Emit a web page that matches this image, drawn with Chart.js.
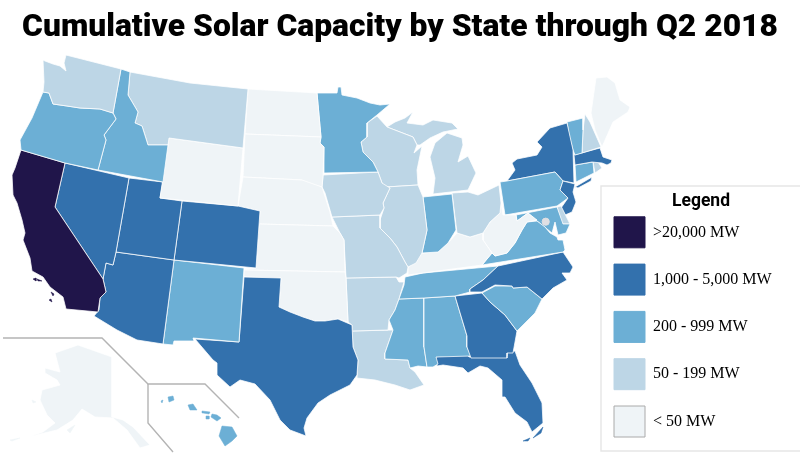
<!DOCTYPE html>
<html>
<head>
<meta charset="utf-8">
<script src="https://cdn.jsdelivr.net/npm/chart.js@4"></script>
<style>
body { margin: 0; background: #fff; }
canvas { display: block; }
</style>
</head>
<body>
<canvas id="myChart" width="800" height="458"></canvas>
<script>
var chartTitle = "Cumulative Solar Capacity by State through Q2 2018"
var legendTitle = "Legend"
var binLabels = [">20,000 MW", "1,000 - 5,000 MW", "200 - 999 MW", "50 - 199 MW", "< 50 MW"]
var binColors = ["#20154a", "#3371ad", "#6cafd5", "#bdd6e6", "#eff4f7"]

// state outlines, in picture units (x, y)
var washington = [[66,55],[121,69],[113,113],[100,109],[80,108],[67,106],[53,104],[49,93],[43,92],[44,82],[43,60],[45,61],[53,64],[60,66],[66,71],[64,63]]
var oregon = [[43,92],[49,93],[53,104],[67,106],[80,108],[100,109],[113,113],[116,119],[104,135],[106,140],[98,170],[65,163],[21,150],[20,140],[32,118]]
var idaho = [[121,69],[130,72],[128,95],[138,112],[135,123],[142,126],[148,145],[168,145],[163,182],[98,170],[106,140],[104,135],[116,119],[113,113]]
var montana = [[130,72],[190,83],[248,89],[243,148],[169,138],[168,145],[148,145],[142,126],[135,123],[138,112],[128,95]]
var wyoming = [[169,138],[243,148],[238,206],[160,198]]
var california = [[21,150],[65,163],[55,207],[103,279],[106,292],[100,298],[98,312],[66,309],[63,297],[50,287],[43,277],[32,271],[30,258],[23,240],[25,233],[22,220],[17,203],[13,195],[12,175],[15,168]]
var nevada = [[65,163],[129,178],[116,252],[113,265],[106,263],[103,279],[55,207]]
var utah = [[129,178],[163,182],[160,198],[182,201],[174,260],[116,252]]
var colorado = [[182,201],[238,206],[260,211],[256,268],[174,260]]
var arizona = [[116,252],[174,260],[163,344],[137,340],[117,330],[94,316],[99,310],[100,298],[106,292],[103,279],[106,263],[113,265]]
var newMexico = [[174,260],[244,268],[239,342],[193,338],[194,341],[174,341],[173,345],[163,344]]
var texas = [[195,339],[239,342],[244,277],[281,278],[279,307],[290,312],[303,317],[315,321],[325,321],[338,319],[352,325],[353,347],[358,360],[357,375],[350,385],[330,395],[318,403],[307,418],[304,428],[306,436],[290,430],[280,420],[270,400],[255,384],[240,380],[230,387],[217,375],[217,363],[213,360]]
var oklahoma = [[244,270],[345,272],[346,278],[348,322],[338,319],[325,321],[315,321],[303,317],[290,312],[279,307],[281,278],[244,277]]
var kansas = [[259,224],[333,226],[340,233],[344,240],[345,272],[244,270],[256,268]]
var nebraska = [[243,177],[302,180],[322,187],[330,212],[333,226],[259,224],[260,211],[238,206]]
var southDakota = [[245,134],[321,137],[320,143],[324,147],[323,177],[322,187],[305,183],[302,180],[243,177]]
var northDakota = [[248,89],[317,93],[321,137],[245,134]]
var minnesota = [[317,93],[337,93],[338,87],[341,87],[342,95],[357,98],[370,103],[380,105],[390,104],[377,115],[367,123],[367,137],[361,142],[363,152],[373,162],[378,172],[324,173],[324,147],[320,143],[321,137]]
var iowa = [[323,175],[378,172],[382,183],[390,188],[383,203],[384,208],[380,215],[332,217],[325,193],[322,187]]
var missouri = [[332,217],[380,215],[380,228],[390,238],[397,247],[405,262],[408,267],[407,273],[399,278],[396,277],[346,278],[344,240],[340,233]]
var illinois = [[386,187],[418,185],[423,197],[427,230],[422,253],[416,263],[408,267],[405,262],[397,247],[390,238],[380,228],[380,220],[384,208],[383,203],[390,188]]
var wisconsin = [[367,123],[377,116],[387,127],[413,137],[417,145],[414,153],[422,146],[417,170],[418,185],[386,187],[382,183],[378,172],[373,162],[363,152],[361,142],[367,137]]
var michiganUpper = [[387,127],[395,122],[405,118],[413,112],[407,123],[423,125],[433,120],[452,123],[458,129],[443,132],[430,138],[420,145],[417,145],[413,137]]
var michiganLower = [[447,133],[462,138],[463,145],[458,162],[468,156],[476,173],[468,190],[433,194],[435,178],[430,157],[435,143]]
var indiana = [[423,197],[452,194],[456,230],[448,243],[438,252],[422,253],[427,230]]
var ohio = [[452,193],[468,192],[478,195],[499,185],[501,203],[500,213],[490,222],[483,233],[470,237],[457,233]]
var kentucky = [[457,233],[470,237],[483,233],[483,240],[492,253],[482,265],[423,273],[408,275],[408,268],[422,253],[438,252],[448,243]]
var westVirginia = [[501,203],[503,215],[516,215],[517,221],[528,213],[537,220],[527,222],[522,230],[515,243],[507,253],[495,256],[492,253],[483,240],[483,233],[490,222],[500,213]]
var virginia = [[563,252],[482,265],[492,253],[495,256],[507,253],[515,243],[522,230],[527,222],[537,221],[545,227],[550,233],[557,237],[558,240],[563,240],[565,250]]
var maryland = [[516,215],[557,207],[563,224],[570,224],[566,233],[558,235],[555,222],[552,233],[537,221],[528,213],[517,221]]
var delaware = [[557,207],[561,206],[570,224],[562,224]]
var newJersey = [[563,181],[575,184],[573,192],[576,202],[572,212],[565,215],[561,208],[568,198],[560,190]]
var pennsylvania = [[500,182],[507,181],[555,172],[563,181],[560,190],[568,198],[557,206],[505,215]]
var newYork = [[507,181],[515,170],[512,163],[517,159],[537,155],[542,147],[537,142],[550,128],[567,123],[573,150],[574,183],[563,181],[555,172]]
var longIsland = [[575,187],[592,177],[591,181],[578,188]]
var vermont = [[567,122],[583,118],[583,130],[582,153],[575,155],[573,150],[569,135]]
var newHampshire = [[585,114],[590,122],[601,147],[582,153],[583,130]]
var maine = [[591,113],[596,78],[607,77],[615,83],[620,100],[630,107],[628,112],[613,122],[602,147],[595,130]]
var massachusetts = [[575,165],[574,155],[600,148],[603,157],[612,160],[611,163],[607,165],[602,163],[592,162]]
var connecticut = [[575,165],[593,162],[594,173],[576,182]]
var rhodeIsland = [[593,162],[598,162],[602,168],[595,173]]
var northCarolina = [[563,252],[573,267],[570,273],[562,273],[567,280],[553,288],[542,299],[527,287],[513,288],[512,286],[495,285],[482,292],[470,292],[470,289],[483,280],[498,266]]
var tennessee = [[405,277],[423,273],[498,266],[483,280],[470,289],[470,292],[455,296],[424,298],[399,299],[404,285]]
var southCarolina = [[482,293],[495,286],[512,286],[513,288],[527,287],[542,299],[535,313],[517,331],[505,315],[490,302]]
var georgia = [[455,296],[482,293],[490,302],[505,315],[517,331],[513,353],[507,353],[507,358],[471,358],[467,347],[467,336]]
var alabama = [[424,298],[455,296],[467,336],[467,347],[471,356],[436,357],[438,364],[433,367],[427,367],[424,347]]
var mississippi = [[399,299],[424,298],[424,347],[427,367],[418,366],[410,368],[408,360],[385,359],[385,353],[393,330],[389,320],[395,310]]
var arkansas = [[346,278],[396,277],[399,282],[404,282],[399,299],[395,310],[389,320],[388,330],[352,331],[352,325],[348,322]]
var louisiana = [[352,331],[393,330],[385,353],[385,359],[408,360],[410,368],[415,372],[424,385],[410,390],[395,385],[375,380],[357,378],[358,360],[353,347]]
var florida = [[435,357],[466,353],[469,357],[507,356],[507,352],[515,351],[520,365],[532,383],[542,403],[543,423],[532,432],[527,422],[515,413],[505,397],[502,397],[502,380],[488,368],[480,366],[468,373],[463,368],[443,365],[437,366]]
var alaska = [[55,353],[78,345],[112,357],[112,417],[123,420],[133,427],[150,445],[140,448],[127,430],[113,418],[95,417],[82,409],[73,420],[57,430],[28,437],[43,432],[55,423],[47,415],[40,400],[42,390],[60,385],[57,380],[45,373],[45,368],[60,372]]

var stateNames = ["Washington","Oregon","Idaho","Montana","Wyoming","California","Nevada","Utah","Colorado","Arizona","New Mexico","Texas","Oklahoma","Kansas","Nebraska","South Dakota","North Dakota","Minnesota","Iowa","Missouri","Illinois","Wisconsin","Michigan","Michigan","Indiana","Ohio","Kentucky","West Virginia","Virginia","Maryland","Delaware","New Jersey","Pennsylvania","New York","New York","Vermont","New Hampshire","Maine","Massachusetts","Connecticut","Rhode Island","North Carolina","Tennessee","South Carolina","Georgia","Alabama","Mississippi","Arkansas","Louisiana","Florida","Alaska"]
var stateBins = [3,2,2,3,4,0,1,1,1,1,2,1,4,4,4,4,4,2,3,3,3,3,3,3,2,3,4,4,2,2,3,1,2,1,1,2,3,4,1,2,3,1,2,2,1,2,2,3,3,1,4]
var stateOutlines = [washington,oregon,idaho,montana,wyoming,california,nevada,utah,colorado,arizona,newMexico,texas,oklahoma,kansas,nebraska,southDakota,northDakota,minnesota,iowa,missouri,illinois,wisconsin,michiganUpper,michiganLower,indiana,ohio,kentucky,westVirginia,virginia,maryland,delaware,newJersey,pennsylvania,newYork,longIsland,vermont,newHampshire,maine,massachusetts,connecticut,rhodeIsland,northCarolina,tennessee,southCarolina,georgia,alabama,mississippi,arkansas,louisiana,florida,alaska]

// islands, no white edge or they vanish
var islandBins = [0,0,0,0,1,1,2,2,2,2,2,2,2,4,4,4,4]
var islandOutlines = [
  [[33,279],[36,278],[36,281]], [[37,279],[42,281],[38,281]], [[51,292],[54,294],[53,296]], [[49,300],[51,299],[52,302]],
  [[523,441],[530,438],[528,441]], [[533,438],[543,427],[541,433]],
  [[222,426],[232,427],[237,436],[232,441],[225,446],[219,436]],
  [[212,414],[217,415],[221,418],[217,421],[211,417]],
  [[188,405],[193,404],[197,410],[190,410]],
  [[168,397],[173,396],[174,400],[169,402]],
  [[202,411],[210,412],[209,414],[203,413]],
  [[206,416],[209,416],[209,419],[207,419]],
  [[161,401],[163,400],[162,403]],
  [[66,377],[72,382],[68,381]], [[67,430],[75,425],[70,433]], [[32,400],[36,402],[33,403]], [[10,440],[20,438],[12,441]]
]

var insetLines = [
  [[3,338],[102,338],[148,384],[205,384],[239,418]],
  [[148,384],[148,423],[173,452]]
]
var legendFrame = [[800,186],[601,186],[601,451],[800,451]]
var dcPoint = [[545.7,221.7]]

function toPoints(outline){
  return outline.map(function(p){ return {x:p[0], y:p[1]} })
}

var datasets = []
for(var i=0;i<stateOutlines.length;i++){
  datasets.push({
    label: stateNames[i],
    data: toPoints(stateOutlines[i].concat([stateOutlines[i][0]])),
    showLine: true,
    fill: "shape",
    backgroundColor: binColors[stateBins[i]],
    borderColor: "rgba(255,255,255,0.85)",
    borderWidth: 0.9,
    pointRadius: 0,
    tension: 0
  })
}
for(var i=0;i<islandOutlines.length;i++){
  datasets.push({
    data: toPoints(islandOutlines[i].concat([islandOutlines[i][0]])),
    showLine: true,
    fill: "shape",
    backgroundColor: binColors[islandBins[i]],
    borderColor: binColors[islandBins[i]],
    borderWidth: 0.5,
    pointRadius: 0,
    tension: 0
  })
}
for(var i=0;i<insetLines.length;i++){
  datasets.push({
    data: toPoints(insetLines[i]),
    showLine: true,
    fill: false,
    borderColor: "#b4b4b4",
    borderWidth: 1.4,
    pointRadius: 0,
    tension: 0
  })
}
datasets.push({
  data: toPoints(legendFrame),
  showLine: true,
  fill: false,
  borderColor: "#e6e6e6",
  borderWidth: 1.4,
  pointRadius: 0,
  tension: 0
})
datasets.push({
  label: "District of Columbia",
  data: toPoints(dcPoint),
  order: -1,
  pointRadius: 3.6,
  pointBackgroundColor: "#dfdfe3",
  pointBorderColor: "#dfdfe3"
})

// chart.js has no free placement for the legend, so move it once layout is done
var placeLegend = {
  id: "placeLegend",
  afterLayout: function(chart){
    var legend = chart.legend
    legend.left = 597.7
    legend.top = 192.5
    legend.width = 206.6
    legend.right = legend.left + legend.width
    legend.bottom = 458
    legend.adjustHitBoxes()
  }
}

var myChart = new Chart("myChart",{
  type: "scatter",
  data: { datasets: datasets },
  plugins: [placeLegend],
  options: {
    responsive: false,
    animation: false,
    layout: { padding: 0, autoPadding: false },
    scales: {
      x: { type: "linear", min: 0, max: 800, display: false },
      y: { type: "linear", min: 50, max: 458, reverse: true, display: false }
    },
    plugins: {
      tooltip: { enabled: false },
      title: {
        display: true,
        text: chartTitle,
        color: "#000",
        font: { family: "Roboto", size: 31.8, weight: "900", lineHeight: 1.2 },
        padding: { top: 9, bottom: 2.84 }
      },
      legend: {
        position: "chartArea",
        align: "start",
        title: {
          display: true,
          text: legendTitle,
          color: "#000",
          font: { family: "Roboto", size: 17.5, weight: "700", lineHeight: 1.2 },
          padding: { top: 0, bottom: -13 }
        },
        labels: {
          boxWidth: 31,
          boxHeight: 31,
          padding: 16.3,
          color: "#222",
          font: { family: "Liberation Serif", size: 16 },
          generateLabels: function(){
            return binLabels.map(function(text,i){
              return {
                text: text,
                fillStyle: binColors[i],
                strokeStyle: i==4 ? "#aaa" : binColors[i],
                lineWidth: 1,
                hidden: false
              }
            })
          }
        }
      }
    }
  }
})
</script>
</body>
</html>
